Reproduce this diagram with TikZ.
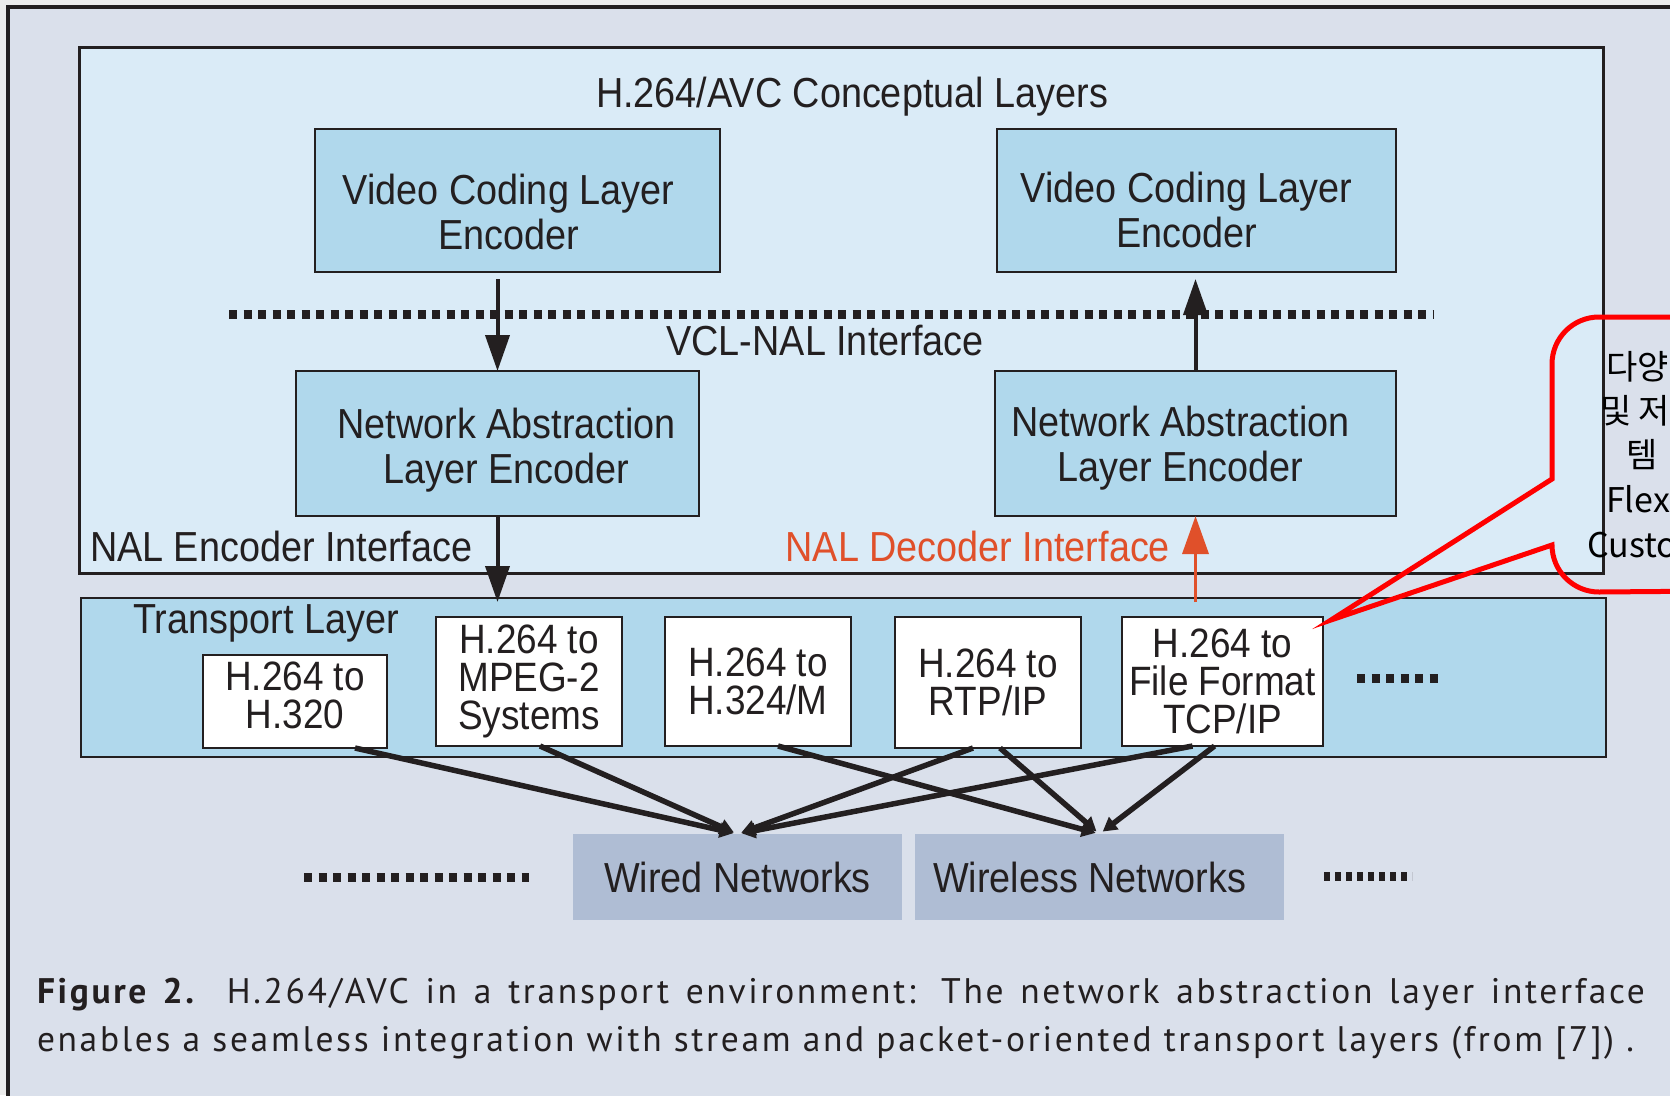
\documentclass[tikz,border=0pt]{standalone}
\usepackage{fontspec}
\setmainfont{Liberation Sans}
\newfontfamily\narrowfont[FakeStretch=0.9]{Liberation Sans}
\newfontfamily\capfont[LetterSpace=7.5]{PT Sans}
\newfontfamily\krfont{Noto Sans CJK KR}
\usetikzlibrary{arrows.meta}
\definecolor{pagebg}{HTML}{DAE0EB}
\definecolor{concbg}{HTML}{DAEBF7}
\definecolor{boxbg}{HTML}{B0D8EC}
\definecolor{netbg}{HTML}{AFBDD4}
\definecolor{ink}{HTML}{231F20}
\definecolor{decred}{HTML}{E0502A}
\definecolor{outerbg}{HTML}{ECECEC}
\tikzset{
  every node/.style={inner sep=0pt, outer sep=0pt},
  lbl/.style={font=\narrowfont\fontsize{42}{45}\selectfont, text=ink},
  layerbox/.style={draw=ink, line width=2.5pt, fill=boxbg},
  boxtext/.style={align=center, font=\narrowfont\fontsize{42}{45}\selectfont, text=ink},
  txbox/.style={draw=ink, line width=2.5pt, fill=white, align=center,
    font=\narrowfont\fontsize{41}{38}\selectfont, text=ink},
  netbox/.style={fill=netbg, align=center,
    font=\narrowfont\fontsize{42}{45}\selectfont, text=ink},
  bigarrow/.style={draw=ink, line width=4pt, -{Triangle[width=24pt,length=36pt]}},
  redarrow/.style={draw=decred, line width=3.5pt, -{Triangle[width=26pt,length=38pt]}},
  netline/.style={draw=ink, line width=5.5pt, -{Triangle[width=15pt,length=14pt]}},
  dotline/.style={draw=ink, line width=9pt, dash pattern=on 8pt off 6.5pt},
  dotlinefine/.style={draw=ink, line width=9pt, dash pattern=on 6pt off 5pt},
  kr/.style={font=\krfont\fontsize{34}{38}\selectfont, text=black, anchor=west},
}
\begin{document}
\begin{tikzpicture}[x=1pt,y=-1pt]
\useasboundingbox (0,0) rectangle (1670,1095);
\fill[outerbg] (0,0) rectangle (1670,1095);
\clip (0,0) rectangle (1670,1095);
\draw[ink, line width=4pt, fill=pagebg] (8,7) rectangle (1720,1140);

% conceptual layers
\node[draw=ink, line width=3pt, fill=concbg, minimum width=1524, minimum height=526] (concept) at (841,310) {};
\node[lbl] (title) at (852,97) {H.264/AVC Conceptual Layers};

\node[layerbox, minimum width=405, minimum height=143] (vclL) at (517.5,200.5) {};
\node[boxtext] (vclLt) at ([xshift=-9pt,yshift=-11pt]vclL.center) {Video Coding Layer\\Encoder};
\node[layerbox, minimum width=399, minimum height=143] (vclR) at (1196.5,200.5) {};
\node[boxtext] (vclRt) at ([xshift=-10pt,yshift=-9pt]vclR.center) {Video Coding Layer\\Encoder};
\node[layerbox, minimum width=403, minimum height=145] (nalL) at (497.5,443.5) {};
\node[boxtext] (nalLt) at ([xshift=9pt,yshift=-7pt]nalL.center) {Network Abstraction\\Layer Encoder};
\node[layerbox, minimum width=401, minimum height=145] (nalR) at (1195.5,443.5) {};
\node[boxtext] (nalRt) at ([xshift=-15pt,yshift=-5pt]nalR.center) {Network Abstraction\\Layer Encoder};

\coordinate (vnA) at (229,314);
\coordinate (vnB) at (1433,314);
\draw[dotline] (vnA) -- (vnB);
\node[lbl] (vclnal) at (825,341) {VCL-NAL Interface};

\node[lbl, anchor=west] (nalEnc) at (90,546) {NAL Encoder Interface};
\node[lbl, anchor=east, text=decred] (nalDec) at (1170,546) {NAL Decoder Interface};

% transport layer
\node[draw=ink, line width=2.5pt, fill=boxbg, minimum width=1525, minimum height=159] (transport) at (843.5,677.5) {};
\node[lbl] (tlabel) at (266,623) {Transport Layer};

\node[txbox, minimum width=184, minimum height=93] (h320) at (295,701.5) {};
\node[align=center, font=\narrowfont\fontsize{41}{38}\selectfont, text=ink] (h320t) at ([yshift=6pt]h320.center) {H.264 to\\H.320};
\node[txbox, minimum width=186, minimum height=129] (mpeg) at (529,681.5) {H.264 to\\MPEG-2\\Systems};
\node[txbox, minimum width=186, minimum height=129] (h324) at (758,681.5) {H.264 to\\H.324/M};
\node[txbox, minimum width=186, minimum height=131] (rtp) at (988,682.5) {H.264 to\\RTP/IP};
\node[txbox, minimum width=201, minimum height=129] (file) at (1222.5,681.5) {H.264 to\\File Format\\TCP/IP};

\coordinate (tdA) at (1357,678);
\coordinate (tdB) at (1443,678);
\draw[dotline] (tdA) -- (tdB);

% arrows between layers
\draw[bigarrow, shorten <=7pt] (vclL.south -| nalL.north) -- (nalL.north);
\draw[bigarrow, shorten >=7pt] (nalR.north) -- (nalR.north |- vclR.south);
\draw[bigarrow, shorten >=-4pt] (nalL.south) -- (nalL.south |- transport.north);
\draw[redarrow, shorten <=-4pt] (nalR.south |- transport.north) -- (nalR.south);

% networks
\node[netbox, minimum width=329, minimum height=86] (wired) at (737.5,877) {Wired Networks};
\node[netbox, minimum width=369, minimum height=86] (wireless) at (1099.5,877) {\hspace*{-20pt}Wireless Networks};

\coordinate (ndA) at (304,877);
\coordinate (ndB) at (529,877);
\draw[dotline] (ndA) -- (ndB);
\coordinate (ndC) at (1324,876);
\coordinate (ndD) at (1412,876);
\draw[dotlinefine] (ndC) -- (ndD);

\draw[netline, shorten >=4pt] ([xshift=60pt]h320.south) -- (wired.north);
\draw[netline, shorten >=4pt] ([xshift=11pt]mpeg.south) -- (wired.north);
\draw[netline, shorten >=4pt] ([xshift=20pt]h324.south) -- (wireless.north);
\draw[netline, shorten >=4pt] ([xshift=-15pt]rtp.south) -- (wired.north);
\draw[netline, shorten >=4pt] ([xshift=12pt]rtp.south) -- (wireless.north);
\draw[netline, shorten >=4pt] ([xshift=-30pt]file.south) -- (wired.north);
\draw[netline, shorten >=4pt] ([xshift=-8pt]file.south) -- (wireless.north);

% callout
\coordinate (cTip) at (file.north east);
\draw[red, line width=5pt, line join=miter]
  (1720,317) -- (1599,317) arc[start angle=90, end angle=180, radius=47pt]
  -- (1552,479) -- ([shift={(8,3)}]cTip) -- (1552,545)
  arc[start angle=180, end angle=270, radius=47pt] -- (1720,591);
\node[kr] (k1) at (1606,367) {다양};
\node[kr] (k2) at (1600,411) {및 저};
\node[kr] (k3) at (1626,455) {템};
\node[kr] (k4) at (1606,499) {Flex};
\node[kr] (k5) at (1587,545) {Custo};

% caption
\node[anchor=base west, text=ink, font=\capfont\fontsize{35.5}{40}\selectfont] (cap1) at (37,1003)
  {\makebox[1608pt][s]{\textbf{Figure 2.} H.264/AVC in a transport environment: The network abstraction layer interface}};
\node[anchor=base west, text=ink, font=\capfont\fontsize{35.5}{40}\selectfont] (cap2) at (37,1051)
  {enables a seamless integration with stream and packet-oriented transport layers (from [7]) .};
\end{tikzpicture}
\end{document}
